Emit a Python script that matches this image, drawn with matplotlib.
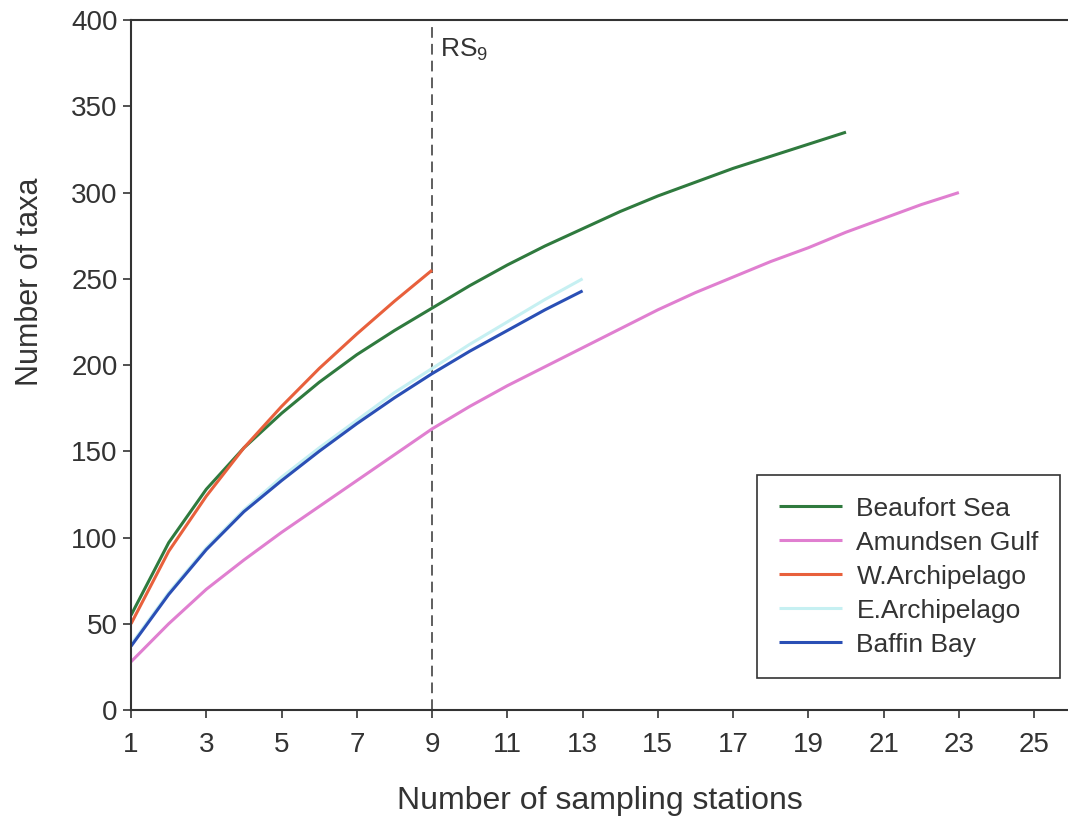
import matplotlib
matplotlib.use("Agg")
import matplotlib.pyplot as plt

plt.rcParams['font.family'] = ['Liberation Sans', 'DejaVu Sans']
plt.rcParams['mathtext.fontset'] = 'custom'
plt.rcParams['mathtext.rm'] = 'Liberation Sans'
plt.rcParams['mathtext.it'] = 'Liberation Sans'

# Data (number of taxa vs number of sampling stations)
beaufort_x = list(range(1, 21))
beaufort_y = [55, 97, 128, 152, 172, 190, 206, 220, 233, 246, 258, 269, 279, 289, 298, 306, 314, 321, 328, 335]

amundsen_x = list(range(1, 24))
amundsen_y = [28, 50, 70, 87, 103, 118, 133, 148, 163, 176, 188, 199, 210, 221, 232, 242, 251, 260, 268, 277, 285, 293, 300]

warch_x = list(range(1, 10))
warch_y = [50, 92, 124, 152, 176, 198, 218, 237, 255]

earch_x = list(range(1, 14))
earch_y = [38, 68, 94, 116, 135, 152, 168, 184, 198, 212, 225, 238, 250]

baffin_x = list(range(1, 14))
baffin_y = [37, 67, 93, 115, 133, 150, 166, 181, 195, 208, 220, 232, 243]

series = [
    ("Beaufort Sea", beaufort_x, beaufort_y, "#2f7a3e"),
    ("Amundsen Gulf", amundsen_x, amundsen_y, "#e07fd0"),
    ("W.Archipelago", warch_x, warch_y, "#e8603c"),
    ("E.Archipelago", earch_x, earch_y, "#c6f0f2"),
    ("Baffin Bay", baffin_x, baffin_y, "#2a4fb5"),
]

xticks = list(range(1, 26, 2))
yticks = list(range(0, 401, 50))
rs_x = 9

fig = plt.figure(figsize=(10.68, 8.24), dpi=100)
ax = fig.add_axes([0.1227, 0.1383, 0.8773, 0.8374])

ax.axvline(rs_x, color="#333333", lw=1.1, ls=(0, (7, 4)), zorder=1)

# draw order: E.Archipelago below Baffin Bay
order = [3, 0, 1, 2, 4]
handles = {}
for i in order:
    name, xs, ys, c = series[i]
    h, = ax.plot(xs, ys, color=c, lw=2.2, label=name, zorder=2,
                 solid_joinstyle='round', solid_capstyle='butt')
    handles[name] = h

ax.text(rs_x + 0.2, 390, r'RS$_{9}$', fontsize=19, color="#333333", va='top', ha='left')

ax.set_xlim(1, 25.9)
ax.set_ylim(0, 400)
ax.set_xticks(xticks)
ax.set_yticks(yticks)
ax.tick_params(axis='both', labelsize=20, colors="#333333", length=6, width=1.2, direction='out')
ax.tick_params(axis='x', pad=10)
ax.set_xlabel("Number of sampling stations", fontsize=23, color="#333333", labelpad=20)
ax.set_ylabel("Number of taxa", fontsize=22, color="#333333")
ax.yaxis.set_label_coords(-0.092, 0.62)

for s in ['left', 'bottom', 'top']:
    ax.spines[s].set_linewidth(1.5)
    ax.spines[s].set_color("#333333")
ax.spines['right'].set_visible(False)

leg = ax.legend([handles[s[0]] for s in series], [s[0] for s in series],
                loc='lower left', bbox_to_anchor=(0.668, 0.046),
                fontsize=19, frameon=True, fancybox=False, framealpha=1,
                edgecolor="#333333", handlelength=2.4, labelspacing=0.38,
                borderpad=0.82, handletextpad=0.55, borderaxespad=0)
leg.get_frame().set_linewidth(1.2)
for t in leg.get_texts():
    t.set_color("#333333")

fig.savefig("out.png", dpi=100)
